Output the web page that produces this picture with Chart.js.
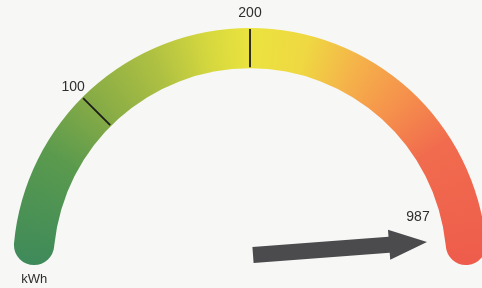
<!DOCTYPE html>
<html>
<head>
<meta charset="utf-8">
<script src="https://cdn.jsdelivr.net/npm/chart.js@4.4.0/dist/chart.umd.min.js"></script>
<style>
  html, body { margin: 0; padding: 0; background: #f7f7f5; }
  #wrap { width: 482px; height: 288px; }
</style>
</head>
<body>
<div id="wrap"><canvas id="gauge" width="482" height="288"></canvas></div>
<script>
// Gauge values
const scaleMin = 0;
const scaleMax = 400;
const tickValues = [100, 200];
const tickLabels = ['100', '200'];
const readingValue = 987;
const readingLabel = '987';
const unitLabel = 'kWh';

const FONT = '"Liberation Sans", Arial, sans-serif';
const TEXT_COLOR = '#2e2e2e';

function valueToAngle(v) {
    const t = (v - scaleMin) / (scaleMax - scaleMin);
    return Math.PI + Math.min(Math.max(t, 0), 1) * Math.PI;
}

// Paints the band with a green -> yellow -> red sweep
const gradientPlugin = {
    id: 'gaugeGradient',
    beforeDatasetsDraw(chart) {
        const arc = chart.getDatasetMeta(0).data[0];
        if (!arc) return;
        const g = chart.ctx.createConicGradient(Math.PI, arc.x, arc.y);
        g.addColorStop(0.00, '#3e8a5a');
        g.addColorStop(0.08, '#5a9a4e');
        g.addColorStop(0.125, '#84aa46');
        g.addColorStop(0.18, '#aec042');
        g.addColorStop(0.22, '#d6d83e');
        g.addColorStop(0.25, '#ebe33f');
        g.addColorStop(0.29, '#efd842');
        g.addColorStop(0.33, '#f5b04a');
        g.addColorStop(0.37, '#f58f4c');
        g.addColorStop(0.41, '#f16c4e');
        g.addColorStop(0.50, '#ee5c4b');
        g.addColorStop(0.75, '#ee5c4b');
        g.addColorStop(0.76, '#3e8a5a');
        g.addColorStop(1.00, '#3e8a5a');
        arc.options.backgroundColor = g;
    }
};

// Tick lines, tick labels, unit, reading and arrow
const decorPlugin = {
    id: 'gaugeDecor',
    afterDatasetsDraw(chart) {
        const arc = chart.getDatasetMeta(0).data[0];
        if (!arc) return;
        const ctx = chart.ctx;
        const cx = arc.x, cy = arc.y;
        const rOut = arc.outerRadius, rIn = arc.innerRadius;

        ctx.save();
        ctx.strokeStyle = '#1c1c1c';
        ctx.lineWidth = 1.8;
        ctx.fillStyle = TEXT_COLOR;
        ctx.font = '14px ' + FONT;
        ctx.textAlign = 'center';
        ctx.textBaseline = 'middle';
        tickValues.forEach((v, i) => {
            const a = valueToAngle(v);
            const c = Math.cos(a), s = Math.sin(a);
            ctx.beginPath();
            ctx.moveTo(cx + c * (rIn + 1), cy + s * (rIn + 1));
            ctx.lineTo(cx + c * (rOut - 1), cy + s * (rOut - 1));
            ctx.stroke();
            ctx.fillText(tickLabels[i], cx + c * (rOut + 13), cy + s * (rOut + 15));
        });

        // unit under the left end of the band
        const bandMid = (rOut + rIn) / 2;
        ctx.font = '13px ' + FONT;
        ctx.fillText(unitLabel, cx - bandMid + 1, cy + 14);

        // reading is beyond the scale: arrow pointing off to the right
        if (readingValue > scaleMax) {
            ctx.font = '14px ' + FONT;
            ctx.fillText(readingLabel, cx + 168, cy - 48);

            const x0 = cx + 3, y0 = cy - 10;
            const x1 = cx + 177, y1 = cy - 23;
            const ang = Math.atan2(y1 - y0, x1 - x0);
            const len = Math.hypot(x1 - x0, y1 - y0);
            const headLen = 38, headHalf = 15, shaftHalf = 8;
            ctx.translate(x0, y0);
            ctx.rotate(ang);
            ctx.fillStyle = '#4b4b4e';
            ctx.beginPath();
            ctx.moveTo(0, -shaftHalf);
            ctx.lineTo(len - headLen, -shaftHalf);
            ctx.lineTo(len - headLen, -headHalf);
            ctx.lineTo(len, 0);
            ctx.lineTo(len - headLen, headHalf);
            ctx.lineTo(len - headLen, shaftHalf);
            ctx.lineTo(0, shaftHalf);
            ctx.closePath();
            ctx.fill();
        }
        ctx.restore();
    }
};

new Chart(document.getElementById('gauge'), {
    type: 'doughnut',
    data: {
        labels: [unitLabel],
        datasets: [{
            data: [scaleMax - scaleMin],
            backgroundColor: '#e9e23f',
            borderWidth: 0,
            borderRadius: 20
        }]
    },
    options: {
        responsive: false,
        animation: false,
        rotation: -90,
        circumference: 180,
        radius: 237,
        cutout: '83%',
        layout: {
            padding: { left: 18, right: 0, top: 5, bottom: 0 }
        },
        plugins: {
            legend: { display: false },
            tooltip: { enabled: false }
        }
    },
    plugins: [gradientPlugin, decorPlugin]
});
</script>
</body>
</html>
